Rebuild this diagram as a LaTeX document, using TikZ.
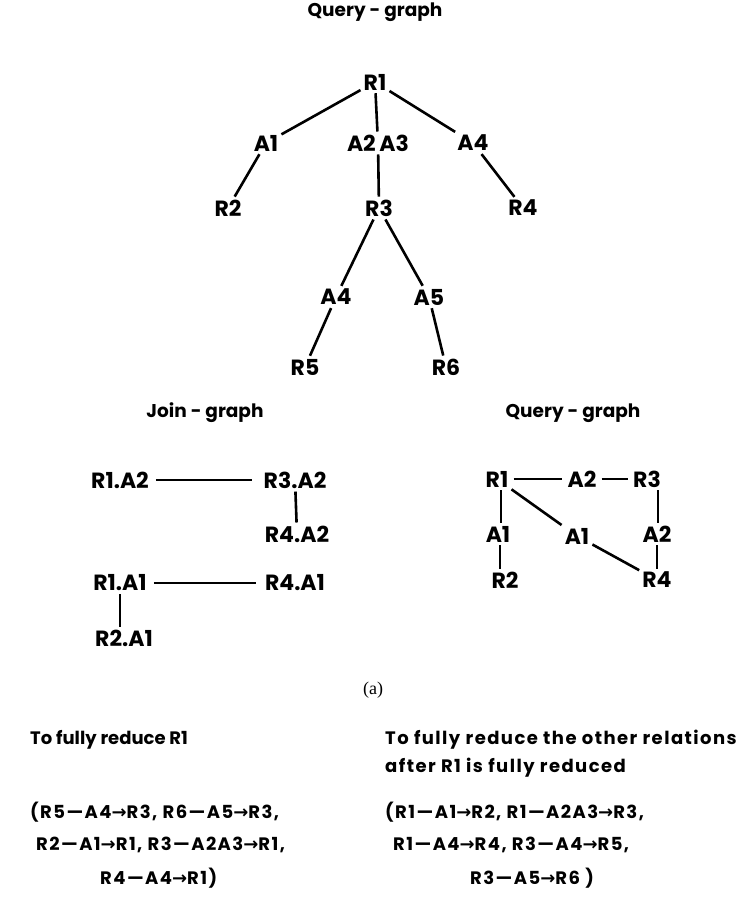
\documentclass[tikz,border=0pt]{standalone}
\usepackage{fontspec}
\setmainfont{Poppins}
\newfontfamily\capfont{Liberation Serif}
\newfontfamily\symfont{DejaVu Sans}
\newcommand{\arr}{{\symfont\bfseries →}}
\begin{document}
\begin{tikzpicture}[x=1pt,y=-1pt,
  lbl/.style={font=\fontsize{22}{26}\selectfont\bfseries, inner sep=3pt},
  ttl/.style={font=\fontsize{18.5}{22}\selectfont\bfseries, inner sep=0pt},
  txt/.style={font=\fontsize{18}{22}\selectfont\bfseries\addfontfeatures{LetterSpace=8}, inner sep=0pt, anchor=west},
  edge/.style={line width=2.6pt}]
\useasboundingbox (0,0) rectangle (747,908);
% ---- top query graph ----
\node[ttl] (t1) at (375,12) {Query - graph};
\node[lbl] (R1) at (375,82) {R1};
\node[lbl] (A1) at (266,143) {A1};
\node[lbl] (A23) at (378,143) {A2\,A3};
\node[lbl] (A4) at (473,143) {A4};
\node[lbl] (R2) at (228,208) {R2};
\node[lbl] (R3) at (379,208) {R3};
\node[lbl] (R4) at (523,208) {R4};
\node[lbl] (A4b) at (336,297) {A4};
\node[lbl] (A5) at (429,297) {A5};
\node[lbl] (R5) at (305,367) {R5};
\node[lbl] (R6) at (446,367) {R6};
\draw[edge] (R1) -- (A1);
\draw[edge] (R1) -- (A23);
\draw[edge] (R1) -- (A4);
\draw[edge] (A1) -- (R2);
\draw[edge] (A23) -- (R3);
\draw[edge] (A4) -- (R4);
\draw[edge] (R3) -- (A4b);
\draw[edge] (R3) -- (A5);
\draw[edge] (A4b) -- (R5);
\draw[edge] (A5) -- (R6);
% ---- join graph ----
\node[ttl] (t2) at (205,413) {Join - graph};
\node[lbl] (J12) at (120,480) {R1.A2};
\node[lbl] (J32) at (295,480) {R3.A2};
\node[lbl] (J42) at (297,534) {R4.A2};
\node[lbl] (J11) at (120,583) {R1.A1};
\node[lbl] (J41) at (295,583) {R4.A1};
\node[lbl] (J21) at (124,638) {R2.A1};
\draw[edge] ([xshift=4pt]J12.east) -- ([xshift=-8pt]J32.west);
\draw[edge] (J32) -- (J42);
\draw[edge] ([xshift=4pt]J11.east) -- ([xshift=-6pt]J41.west);
\draw[edge] (J11.south -| 120,0) -- (J21.north -| 120,0);
% ---- right query graph ----
\node[ttl] (t3) at (573,413) {Query - graph};
\node[lbl] (Q1) at (497,479) {R1};
\node[lbl] (QA2) at (582,479) {A2};
\node[lbl] (Q3) at (647,479) {R3};
\node[lbl] (QA1) at (498,534) {A1};
\node[lbl] (QA1m) at (577,536) {A1};
\node[lbl] (QA2r) at (657,534) {A2};
\node[lbl] (Q2) at (505,580) {R2};
\node[lbl] (Q4) at (657,580) {R4};
\draw[edge] ([xshift=2pt]Q1.east) -- ([xshift=-2pt]QA2.west);
\draw[edge] ([xshift=2pt]QA2.east) -- ([xshift=-2pt]Q3.west);
\draw[edge] (Q1.south -| 501,0) -- (QA1.north -| 501,0);
\draw[edge] (QA1.south -| 500,0) -- (Q2.north -| 500,0);
\draw[edge] (Q1) -- (QA1m);
\draw[edge] (QA1m) -- (Q4);
\draw[edge] (Q3.south -| 658,0) -- (QA2r.north -| 658,0);
\draw[edge] (QA2r) -- (Q4);
% ---- caption ----
\node[font=\capfont\fontsize{18}{21}\selectfont, inner sep=0pt] (cap) at (373,690) {(a)};
% ---- bottom text ----
\node[txt, font=\fontsize{18}{22}\selectfont\bfseries] (b1) at (30,740) {To fully reduce R1};
\node[txt] (b2) at (385,740) {To fully reduce the other relations};
\node[txt] (b3) at (385,768) {after R1 is fully reduced};
\node[txt] (l1) at (30,812) {(R5—A4\arr R3, R6—A5\arr R3,};
\node[txt] (l2) at (36,845) {R2—A1\arr R1, R3—A2A3\arr R1,};
\node[txt] (l3) at (100,878) {R4—A4\arr R1)};
\node[txt] (r1) at (385,812) {(R1—A1\arr R2, R1—A2A3\arr R3,};
\node[txt] (r2) at (393,845) {R1—A4\arr R4, R3—A4\arr R5,};
\node[txt] (r3) at (470,878) {R3—A5\arr R6 )};
\end{tikzpicture}
\end{document}
